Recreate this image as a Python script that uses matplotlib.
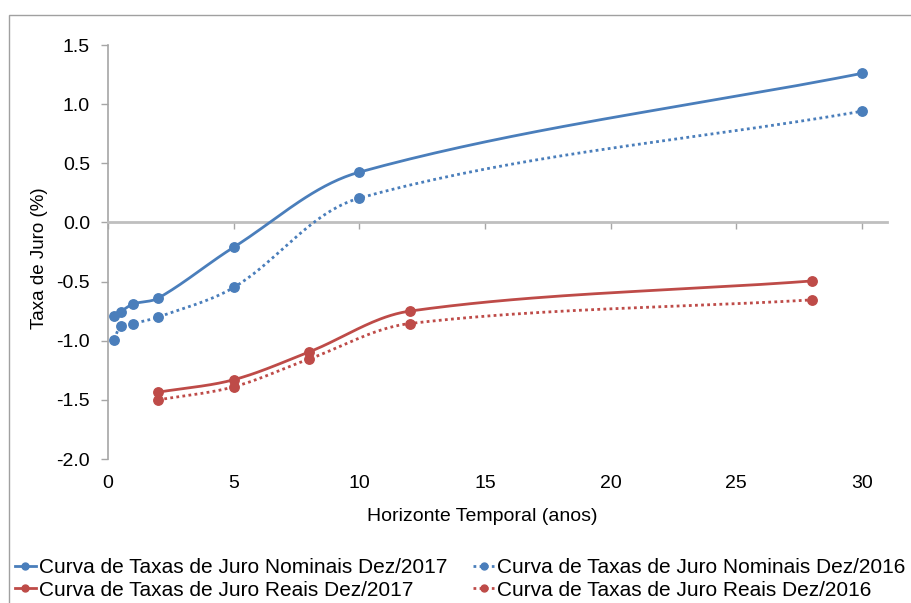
import numpy as np
import matplotlib
matplotlib.use("Agg")
import matplotlib.pyplot as plt
from matplotlib.lines import Line2D
from matplotlib.patches import Rectangle

plt.rcParams.update({"font.family": "Liberation Sans", "font.size": 14})

BLUE = "#4A7EBB"
RED = "#BE4B48"
AXGRAY = "#A6A6A6"

# ---- data ----
nom_x = [0.25, 0.5, 1, 2, 5, 10, 30]
nom17 = [-0.79, -0.755, -0.69, -0.64, -0.21, 0.425, 1.26]
nom16 = [-0.99, -0.875, -0.855, -0.80, -0.55, 0.205, 0.94]
real_x = [2, 5, 8, 12, 28]
real17 = [-1.435, -1.33, -1.095, -0.75, -0.495]
real16 = [-1.50, -1.39, -1.155, -0.855, -0.655]
xticks = [0, 5, 10, 15, 20, 25, 30]
yticks = [-2.0, -1.5, -1.0, -0.5, 0.0, 0.5, 1.0, 1.5]
labels = ["Curva de Taxas de Juro Nominais Dez/2017",
          "Curva de Taxas de Juro Reais Dez/2017",
          "Curva de Taxas de Juro Nominais Dez/2016",
          "Curva de Taxas de Juro Reais Dez/2016"]

SX, SY = 25.1, 118.3   # rough px per data unit, used only for smoothing


def smooth(xs, ys, n=40):
    # Excel-like smoothed line: chord-length scaled cubic Bezier
    p = np.column_stack([np.array(xs) * SX, np.array(ys) * SY])
    m = len(p)
    d = np.linalg.norm(np.diff(p, axis=0), axis=1)
    tan = np.zeros_like(p)
    tan[0] = (p[1] - p[0]) / d[0]
    tan[-1] = (p[-1] - p[-2]) / d[-1]
    for i in range(1, m - 1):
        tan[i] = (p[i + 1] - p[i - 1]) / (d[i - 1] + d[i])
    out = [p[0]]
    t = np.linspace(0, 1, n)[1:, None]
    for i in range(m - 1):
        c1 = p[i] + tan[i] * d[i] / 3
        c2 = p[i + 1] - tan[i + 1] * d[i] / 3
        seg = ((1 - t) ** 3 * p[i] + 3 * (1 - t) ** 2 * t * c1
               + 3 * (1 - t) * t ** 2 * c2 + t ** 3 * p[i + 1])
        out.extend(seg)
    out = np.array(out)
    return out[:, 0] / SX, out[:, 1] / SY


fig = plt.figure(figsize=(9.11, 6.03), dpi=100)
fig.patches.append(Rectangle((9 / 911, -0.1), 2, (603 - 15) / 603 + 0.1,
                             transform=fig.transFigure, fill=False,
                             ec="#A0A0A0", lw=1.0))
ax = fig.add_axes([108 / 911, (603 - 459) / 603, (887 - 108) / 911, (459 - 45) / 603])

DOT = (0, (1, 1.2))
series = [(nom_x, nom17, BLUE, "-"), (real_x, real17, RED, "-"),
          (nom_x, nom16, BLUE, DOT), (real_x, real16, RED, DOT)]
for xs, ys, c, ls in series:
    sx, sy = smooth(xs, ys)
    ax.plot(sx, sy, color=c, lw=2.0, ls=ls, solid_capstyle="round", zorder=3)
    ax.plot(xs, ys, "o", color=c, ms=6.8, mec=c, zorder=4)

ax.set_xlim(0, 31)
ax.set_ylim(-2.0, 1.5)
for s in ["top", "right"]:
    ax.spines[s].set_visible(False)
ax.spines["left"].set_color(AXGRAY)
ax.spines["left"].set_linewidth(1.2)
ax.spines["bottom"].set_position(("data", 0))
ax.spines["bottom"].set_color("#BFBFBF")
ax.spines["bottom"].set_linewidth(2.0)

ax.set_yticks(yticks)
ax.set_yticklabels([f"{v:.1f}" for v in yticks])
ax.set_xticks(xticks)
ax.tick_params(axis="x", labelbottom=False, direction="out", length=5, color=AXGRAY, width=1)
ax.tick_params(axis="y", direction="out", length=5, color=AXGRAY, width=1, pad=8)
for v in xticks:
    ax.text(v, -0.058, str(v), transform=ax.get_xaxis_transform(),
            ha="center", va="center")

ax.text((482 - 108) / 779, -0.14, "Horizonte Temporal (anos)",
        transform=ax.transAxes, ha="center", va="center")
fig.text(40 / 911, 1 - 258 / 603, "Taxa de Juro (%)", rotation=90,
         ha="center", va="center", fontsize=13.5)

handles = [Line2D([0], [0], color=BLUE, lw=2, marker="o", ms=5),
           Line2D([0], [0], color=RED, lw=2, marker="o", ms=5),
           Line2D([0], [0], color=BLUE, lw=2, ls=DOT, marker="o", ms=5),
           Line2D([0], [0], color=RED, lw=2, ls=DOT, marker="o", ms=5)]
fig.legend(handles, labels, ncol=2, loc="center left",
           bbox_to_anchor=(-4 / 911, 1 - 579 / 603), frameon=False,
           handlelength=1.0, handletextpad=0.15, columnspacing=1.25,
           labelspacing=0.15, fontsize=15)

fig.savefig("out.png", dpi=100)
